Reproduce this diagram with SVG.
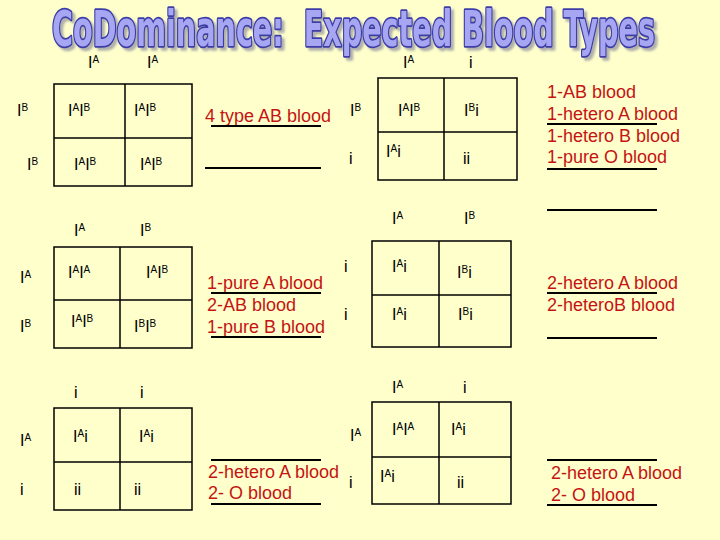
<svg xmlns="http://www.w3.org/2000/svg" width="720" height="540" viewBox="0 0 720 540">
<defs>
<filter id="sh" x="-5%" y="-20%" width="110%" height="150%">
<feDropShadow dx="3" dy="3" stdDeviation="1" flood-color="#707090" flood-opacity="0.55"/>
</filter>
</defs>
<style>
.bg{fill:#FFFFCC}
.sq{fill:none;stroke:#000;stroke-width:1.5}
.ul{stroke:#000;stroke-width:2}
.g{font-family:"Liberation Sans",Arial,sans-serif;font-size:16px;fill:#000}
.s{font-size:10px}
.r{font-family:"Liberation Sans",Arial,sans-serif;font-size:18px;fill:#C41414}
.t{font-family:"Liberation Sans Narrow","DejaVu Sans Condensed","Liberation Sans",sans-serif;font-weight:bold;font-size:50px;fill:#A6A6F2;stroke:#3C3CA8;stroke-width:3.5;stroke-linejoin:round;paint-order:stroke;white-space:pre}
</style>
<rect class="bg" x="0" y="0" width="720" height="540"/>

<g id="title" filter="url(#sh)">
<text class="t" x="52" y="46" textLength="603" lengthAdjust="spacingAndGlyphs">CoDominance:  Expected Blood Types</text>
</g>

<!-- Square 1 -->
<g id="square1">
<rect class="sq" x="54" y="84" width="138" height="102"/>
<line class="sq" x1="125" y1="84" x2="125" y2="186"/>
<line class="sq" x1="54" y1="138" x2="192" y2="138"/>
<text class="g" x="88" y="68">I<tspan class="s" dy="-5">A</tspan></text>
<text class="g" x="147" y="68">I<tspan class="s" dy="-5">A</tspan></text>
<text class="g" x="17" y="116">I<tspan class="s" dy="-5">B</tspan></text>
<text class="g" x="27" y="170">I<tspan class="s" dy="-5">B</tspan></text>
<text class="g" x="68" y="116">I<tspan class="s" dy="-5">A</tspan><tspan dy="5">I</tspan><tspan class="s" dy="-5">B</tspan></text>
<text class="g" x="134" y="116">I<tspan class="s" dy="-5">A</tspan><tspan dy="5">I</tspan><tspan class="s" dy="-5">B</tspan></text>
<text class="g" x="74" y="170">I<tspan class="s" dy="-5">A</tspan><tspan dy="5">I</tspan><tspan class="s" dy="-5">B</tspan></text>
<text class="g" x="140" y="170">I<tspan class="s" dy="-5">A</tspan><tspan dy="5">I</tspan><tspan class="s" dy="-5">B</tspan></text>
</g>

<g id="result1">
<text class="r" x="205" y="122">4 type AB blood</text>
<line class="ul" x1="211" y1="126" x2="321" y2="126"/>
<line class="ul" x1="205" y1="168" x2="321" y2="168"/>
</g>

<!-- Square 2 -->
<g id="square2">
<rect class="sq" x="378" y="78" width="139" height="102"/>
<line class="sq" x1="444" y1="78" x2="444" y2="180"/>
<line class="sq" x1="378" y1="132" x2="517" y2="132"/>
<text class="g" x="403" y="68">I<tspan class="s" dy="-5">A</tspan></text>
<text class="g" x="469" y="68">i</text>
<text class="g" x="350" y="116">I<tspan class="s" dy="-5">B</tspan></text>
<text class="g" x="349" y="164">i</text>
<text class="g" x="398" y="116">I<tspan class="s" dy="-5">A</tspan><tspan dy="5">I</tspan><tspan class="s" dy="-5">B</tspan></text>
<text class="g" x="464" y="116">I<tspan class="s" dy="-5">B</tspan><tspan dy="5">i</tspan></text>
<text class="g" x="386" y="157">I<tspan class="s" dy="-5">A</tspan><tspan dy="5">i</tspan></text>
<text class="g" x="463" y="164">ii</text>
</g>

<g id="result2">
<text class="r" x="547" y="98">1-AB blood</text>
<text class="r" x="547" y="120">1-hetero A blood</text>
<text class="r" x="547" y="142">1-hetero B blood</text>
<text class="r" x="547" y="163">1-pure O blood</text>
<line class="ul" x1="547" y1="124" x2="657" y2="124"/>
<line class="ul" x1="547" y1="169" x2="657" y2="169"/>
<line class="ul" x1="547" y1="210" x2="657" y2="210"/>
</g>

<!-- Square 3 -->
<g id="square3">
<rect class="sq" x="54" y="247" width="138" height="101"/>
<line class="sq" x1="120" y1="247" x2="120" y2="348"/>
<line class="sq" x1="54" y1="300" x2="192" y2="300"/>
<text class="g" x="74" y="236">I<tspan class="s" dy="-5">A</tspan></text>
<text class="g" x="140" y="236">I<tspan class="s" dy="-5">B</tspan></text>
<text class="g" x="20" y="283">I<tspan class="s" dy="-5">A</tspan></text>
<text class="g" x="20" y="332">I<tspan class="s" dy="-5">B</tspan></text>
<text class="g" x="68" y="278">I<tspan class="s" dy="-5">A</tspan><tspan dy="5">I</tspan><tspan class="s" dy="-5">A</tspan></text>
<text class="g" x="146" y="278">I<tspan class="s" dy="-5">A</tspan><tspan dy="5">I</tspan><tspan class="s" dy="-5">B</tspan></text>
<text class="g" x="71" y="327">I<tspan class="s" dy="-5">A</tspan><tspan dy="5">I</tspan><tspan class="s" dy="-5">B</tspan></text>
<text class="g" x="134" y="332">I<tspan class="s" dy="-5">B</tspan><tspan dy="5">I</tspan><tspan class="s" dy="-5">B</tspan></text>
</g>

<g id="result3">
<text class="r" x="207" y="289">1-pure A blood</text>
<text class="r" x="207" y="311">2-AB blood</text>
<text class="r" x="207" y="333">1-pure B blood</text>
<line class="ul" x1="211" y1="293" x2="321" y2="293"/>
<line class="ul" x1="211" y1="337" x2="321" y2="337"/>
</g>

<!-- Square 4 -->
<g id="square4">
<rect class="sq" x="372" y="241" width="139" height="106"/>
<line class="sq" x1="439" y1="241" x2="439" y2="347"/>
<line class="sq" x1="372" y1="295" x2="511" y2="295"/>
<text class="g" x="392" y="224">I<tspan class="s" dy="-5">A</tspan></text>
<text class="g" x="464" y="224">I<tspan class="s" dy="-5">B</tspan></text>
<text class="g" x="344" y="272">i</text>
<text class="g" x="344" y="320">i</text>
<text class="g" x="392" y="272">I<tspan class="s" dy="-5">A</tspan><tspan dy="5">i</tspan></text>
<text class="g" x="457" y="278">I<tspan class="s" dy="-5">B</tspan><tspan dy="5">i</tspan></text>
<text class="g" x="392" y="320">I<tspan class="s" dy="-5">A</tspan><tspan dy="5">i</tspan></text>
<text class="g" x="458" y="320">I<tspan class="s" dy="-5">B</tspan><tspan dy="5">i</tspan></text>
</g>

<g id="result4">
<text class="r" x="547" y="289">2-hetero A blood</text>
<text class="r" x="547" y="311">2-heteroB blood</text>
<line class="ul" x1="547" y1="293" x2="657" y2="293"/>
<line class="ul" x1="547" y1="338" x2="657" y2="338"/>
</g>

<!-- Square 5 -->
<g id="square5">
<rect class="sq" x="54" y="408" width="138" height="102"/>
<line class="sq" x1="120" y1="408" x2="120" y2="510"/>
<line class="sq" x1="54" y1="462" x2="192" y2="462"/>
<text class="g" x="74" y="398">i</text>
<text class="g" x="140" y="398">i</text>
<text class="g" x="20" y="446">I<tspan class="s" dy="-5">A</tspan></text>
<text class="g" x="20" y="495">i</text>
<text class="g" x="73" y="442">I<tspan class="s" dy="-5">A</tspan><tspan dy="5">i</tspan></text>
<text class="g" x="139" y="442">I<tspan class="s" dy="-5">A</tspan><tspan dy="5">i</tspan></text>
<text class="g" x="74" y="495">ii</text>
<text class="g" x="134" y="495">ii</text>
</g>

<g id="result5">
<line class="ul" x1="211" y1="460" x2="321" y2="460"/>
<text class="r" x="208" y="478">2-hetero A blood</text>
<text class="r" x="208" y="499">2- O blood</text>
<line class="ul" x1="211" y1="504" x2="321" y2="504"/>
</g>

<!-- Square 6 -->
<g id="square6">
<rect class="sq" x="372" y="402" width="139" height="102"/>
<line class="sq" x1="439" y1="402" x2="439" y2="504"/>
<line class="sq" x1="372" y1="457" x2="511" y2="457"/>
<text class="g" x="392" y="393">I<tspan class="s" dy="-5">A</tspan></text>
<text class="g" x="463" y="393">i</text>
<text class="g" x="350" y="441">I<tspan class="s" dy="-5">A</tspan></text>
<text class="g" x="349" y="488">i</text>
<text class="g" x="392" y="435">I<tspan class="s" dy="-5">A</tspan><tspan dy="5">I</tspan><tspan class="s" dy="-5">A</tspan></text>
<text class="g" x="451" y="435">I<tspan class="s" dy="-5">A</tspan><tspan dy="5">i</tspan></text>
<text class="g" x="380" y="482">I<tspan class="s" dy="-5">A</tspan><tspan dy="5">i</tspan></text>
<text class="g" x="457" y="488">ii</text>
</g>

<g id="result6">
<line class="ul" x1="547" y1="460" x2="657" y2="460"/>
<text class="r" x="551" y="479">2-hetero A blood</text>
<text class="r" x="551" y="501">2- O blood</text>
<line class="ul" x1="547" y1="505" x2="657" y2="505"/>
</g>
</svg>
